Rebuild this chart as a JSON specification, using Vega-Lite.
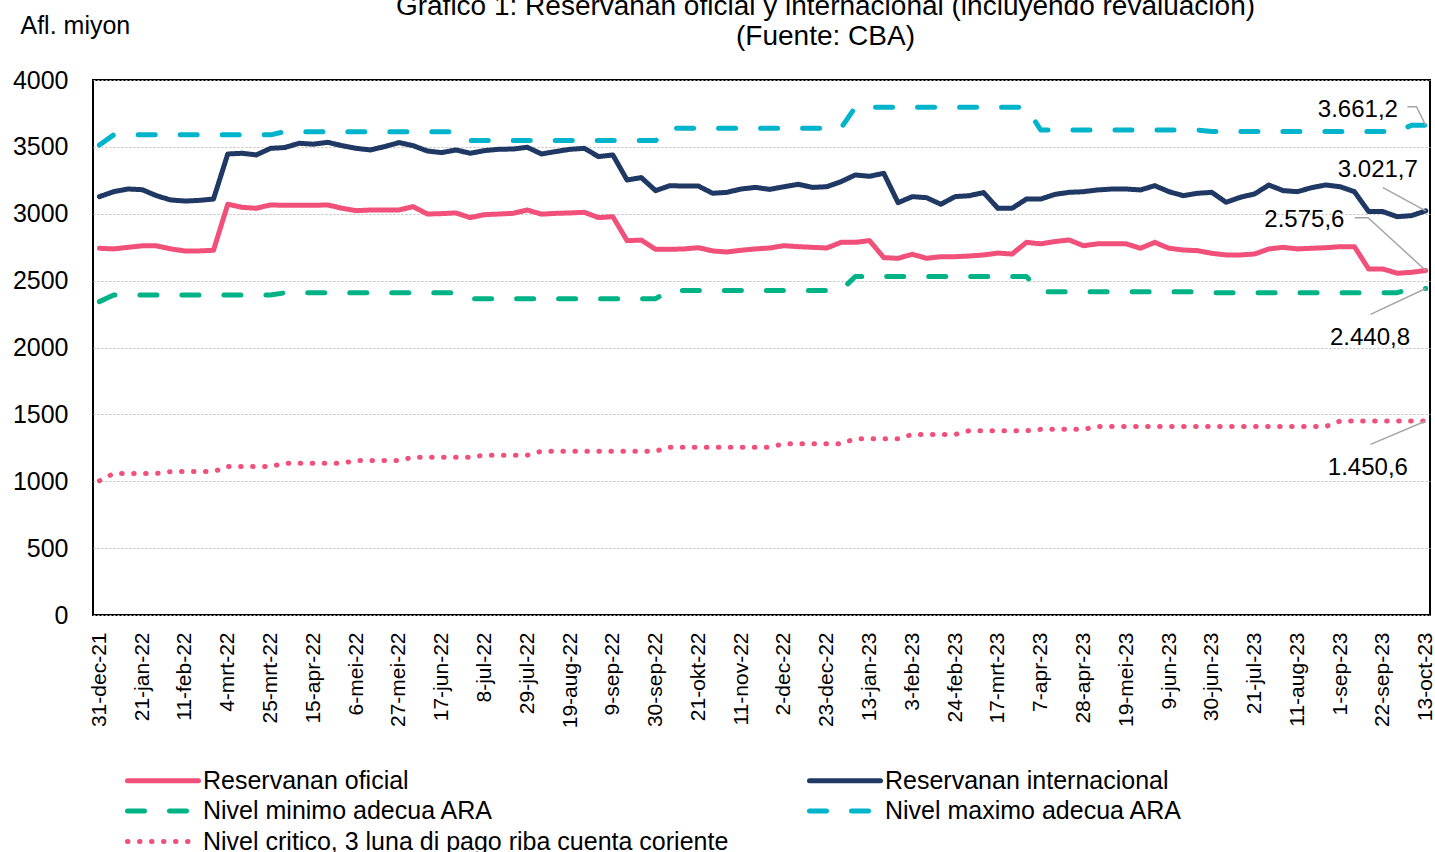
{
  "$schema": "https://vega.github.io/schema/vega-lite/v6.json",
  "width": 1337,
  "height": 535,
  "autosize": {"type": "none"},
  "padding": {"left": 93, "top": 80, "right": 5, "bottom": 237},
  "background": "white",
  "config": {
    "font": "Liberation Sans",
    "view": {"stroke": "#000000", "strokeWidth": 2},
    "axis": {"labelFont": "Liberation Sans", "titleFont": "Liberation Sans"},
    "legend": {"labelFont": "Liberation Sans"}
  },
  "title": {
    "text": ["Grafico 1: Reservanan oficial y internacional (incluyendo revaluacion)", "(Fuente: CBA)"],
    "fontSize": 28,
    "fontWeight": "normal",
    "color": "#000000",
    "lineHeight": 30,
    "anchor": "middle",
    "frame": "group",
    "dx": 64,
    "offset": -38
  },
  "datasets": {
    "main": [
      {"wk":0,"oficial":2742,"internacional":3128,"minimo":2343,"maximo":3514,"critico":1003},
      {"wk":1,"oficial":2737,"internacional":3165,"minimo":2393,"maximo":3590,"critico":1058},
      {"wk":2,"oficial":2749,"internacional":3185,"minimo":2393,"maximo":3590,"critico":1058},
      {"wk":3,"oficial":2760,"internacional":3180,"minimo":2393,"maximo":3590,"critico":1058},
      {"wk":4,"oficial":2760,"internacional":3135,"minimo":2393,"maximo":3590,"critico":1058},
      {"wk":5,"oficial":2737,"internacional":3103,"minimo":2393,"maximo":3590,"critico":1072},
      {"wk":6,"oficial":2722,"internacional":3095,"minimo":2393,"maximo":3590,"critico":1072},
      {"wk":7,"oficial":2722,"internacional":3100,"minimo":2393,"maximo":3590,"critico":1072},
      {"wk":8,"oficial":2727,"internacional":3110,"minimo":2393,"maximo":3590,"critico":1072},
      {"wk":9,"oficial":3071,"internacional":3447,"minimo":2393,"maximo":3590,"critico":1110},
      {"wk":10,"oficial":3048,"internacional":3452,"minimo":2393,"maximo":3590,"critico":1110},
      {"wk":11,"oficial":3041,"internacional":3440,"minimo":2393,"maximo":3590,"critico":1110},
      {"wk":12,"oficial":3066,"internacional":3489,"minimo":2393,"maximo":3590,"critico":1110},
      {"wk":13,"oficial":3063,"internacional":3495,"minimo":2409,"maximo":3614,"critico":1135},
      {"wk":14,"oficial":3063,"internacional":3527,"minimo":2409,"maximo":3614,"critico":1135},
      {"wk":15,"oficial":3063,"internacional":3520,"minimo":2409,"maximo":3614,"critico":1135},
      {"wk":16,"oficial":3066,"internacional":3534,"minimo":2409,"maximo":3614,"critico":1135},
      {"wk":17,"oficial":3041,"internacional":3509,"minimo":2409,"maximo":3614,"critico":1135},
      {"wk":18,"oficial":3023,"internacional":3489,"minimo":2409,"maximo":3614,"critico":1155},
      {"wk":19,"oficial":3028,"internacional":3477,"minimo":2409,"maximo":3614,"critico":1155},
      {"wk":20,"oficial":3028,"internacional":3502,"minimo":2409,"maximo":3614,"critico":1155},
      {"wk":21,"oficial":3028,"internacional":3532,"minimo":2409,"maximo":3614,"critico":1155},
      {"wk":22,"oficial":3053,"internacional":3509,"minimo":2409,"maximo":3614,"critico":1180},
      {"wk":23,"oficial":2998,"internacional":3469,"minimo":2409,"maximo":3614,"critico":1180},
      {"wk":24,"oficial":3001,"internacional":3457,"minimo":2409,"maximo":3614,"critico":1180},
      {"wk":25,"oficial":3006,"internacional":3477,"minimo":2409,"maximo":3614,"critico":1180},
      {"wk":26,"oficial":2971,"internacional":3452,"minimo":2365,"maximo":3547,"critico":1180},
      {"wk":27,"oficial":2993,"internacional":3472,"minimo":2365,"maximo":3547,"critico":1195},
      {"wk":28,"oficial":2998,"internacional":3482,"minimo":2365,"maximo":3547,"critico":1195},
      {"wk":29,"oficial":3003,"internacional":3484,"minimo":2365,"maximo":3547,"critico":1195},
      {"wk":30,"oficial":3028,"internacional":3497,"minimo":2365,"maximo":3547,"critico":1195},
      {"wk":31,"oficial":2997,"internacional":3447,"minimo":2365,"maximo":3547,"critico":1225},
      {"wk":32,"oficial":3003,"internacional":3465,"minimo":2365,"maximo":3547,"critico":1225},
      {"wk":33,"oficial":3006,"internacional":3482,"minimo":2365,"maximo":3547,"critico":1225},
      {"wk":34,"oficial":3011,"internacional":3489,"minimo":2365,"maximo":3547,"critico":1225},
      {"wk":35,"oficial":2971,"internacional":3427,"minimo":2365,"maximo":3547,"critico":1225},
      {"wk":36,"oficial":2978,"internacional":3440,"minimo":2365,"maximo":3547,"critico":1225},
      {"wk":37,"oficial":2799,"internacional":3252,"minimo":2365,"maximo":3547,"critico":1225},
      {"wk":38,"oficial":2803,"internacional":3270,"minimo":2365,"maximo":3547,"critico":1225},
      {"wk":39,"oficial":2734,"internacional":3173,"minimo":2365,"maximo":3547,"critico":1225},
      {"wk":40,"oficial":2734,"internacional":3210,"minimo":2427,"maximo":3640,"critico":1255},
      {"wk":41,"oficial":2737,"internacional":3207,"minimo":2427,"maximo":3640,"critico":1255},
      {"wk":42,"oficial":2746,"internacional":3207,"minimo":2427,"maximo":3640,"critico":1255},
      {"wk":43,"oficial":2722,"internacional":3153,"minimo":2427,"maximo":3640,"critico":1255},
      {"wk":44,"oficial":2714,"internacional":3160,"minimo":2427,"maximo":3640,"critico":1255},
      {"wk":45,"oficial":2727,"internacional":3185,"minimo":2427,"maximo":3640,"critico":1255},
      {"wk":46,"oficial":2737,"internacional":3197,"minimo":2427,"maximo":3640,"critico":1255},
      {"wk":47,"oficial":2744,"internacional":3182,"minimo":2427,"maximo":3640,"critico":1255},
      {"wk":48,"oficial":2761,"internacional":3202,"minimo":2427,"maximo":3640,"critico":1280},
      {"wk":49,"oficial":2754,"internacional":3220,"minimo":2427,"maximo":3640,"critico":1280},
      {"wk":50,"oficial":2749,"internacional":3197,"minimo":2427,"maximo":3640,"critico":1280},
      {"wk":51,"oficial":2744,"internacional":3202,"minimo":2427,"maximo":3640,"critico":1280},
      {"wk":52,"oficial":2786,"internacional":3240,"minimo":2427,"maximo":3640,"critico":1280},
      {"wk":53,"oficial":2786,"internacional":3290,"minimo":2531,"maximo":3796,"critico":1318},
      {"wk":54,"oficial":2799,"internacional":3280,"minimo":2531,"maximo":3796,"critico":1318},
      {"wk":55,"oficial":2672,"internacional":3302,"minimo":2531,"maximo":3796,"critico":1318},
      {"wk":56,"oficial":2667,"internacional":3083,"minimo":2531,"maximo":3796,"critico":1318},
      {"wk":57,"oficial":2697,"internacional":3128,"minimo":2531,"maximo":3796,"critico":1350},
      {"wk":58,"oficial":2667,"internacional":3120,"minimo":2531,"maximo":3796,"critico":1350},
      {"wk":59,"oficial":2679,"internacional":3071,"minimo":2531,"maximo":3796,"critico":1350},
      {"wk":60,"oficial":2679,"internacional":3128,"minimo":2531,"maximo":3796,"critico":1350},
      {"wk":61,"oficial":2684,"internacional":3135,"minimo":2531,"maximo":3796,"critico":1378},
      {"wk":62,"oficial":2692,"internacional":3158,"minimo":2531,"maximo":3796,"critico":1378},
      {"wk":63,"oficial":2706,"internacional":3041,"minimo":2531,"maximo":3796,"critico":1378},
      {"wk":64,"oficial":2699,"internacional":3041,"minimo":2531,"maximo":3796,"critico":1378},
      {"wk":65,"oficial":2786,"internacional":3110,"minimo":2531,"maximo":3796,"critico":1378},
      {"wk":66,"oficial":2775,"internacional":3110,"minimo":2417,"maximo":3626,"critico":1388},
      {"wk":67,"oficial":2792,"internacional":3145,"minimo":2417,"maximo":3626,"critico":1388},
      {"wk":68,"oficial":2804,"internacional":3160,"minimo":2417,"maximo":3626,"critico":1388},
      {"wk":69,"oficial":2761,"internacional":3165,"minimo":2417,"maximo":3626,"critico":1388},
      {"wk":70,"oficial":2775,"internacional":3178,"minimo":2417,"maximo":3626,"critico":1410},
      {"wk":71,"oficial":2775,"internacional":3185,"minimo":2417,"maximo":3626,"critico":1410},
      {"wk":72,"oficial":2775,"internacional":3185,"minimo":2417,"maximo":3626,"critico":1410},
      {"wk":73,"oficial":2742,"internacional":3178,"minimo":2417,"maximo":3626,"critico":1410},
      {"wk":74,"oficial":2786,"internacional":3210,"minimo":2417,"maximo":3626,"critico":1410},
      {"wk":75,"oficial":2742,"internacional":3165,"minimo":2417,"maximo":3626,"critico":1410},
      {"wk":76,"oficial":2729,"internacional":3135,"minimo":2417,"maximo":3626,"critico":1410},
      {"wk":77,"oficial":2724,"internacional":3153,"minimo":2417,"maximo":3626,"critico":1410},
      {"wk":78,"oficial":2704,"internacional":3160,"minimo":2410,"maximo":3615,"critico":1410},
      {"wk":79,"oficial":2692,"internacional":3086,"minimo":2410,"maximo":3615,"critico":1410},
      {"wk":80,"oficial":2692,"internacional":3123,"minimo":2410,"maximo":3615,"critico":1410},
      {"wk":81,"oficial":2699,"internacional":3148,"minimo":2410,"maximo":3615,"critico":1410},
      {"wk":82,"oficial":2737,"internacional":3215,"minimo":2410,"maximo":3615,"critico":1410},
      {"wk":83,"oficial":2749,"internacional":3173,"minimo":2410,"maximo":3615,"critico":1410},
      {"wk":84,"oficial":2737,"internacional":3165,"minimo":2410,"maximo":3615,"critico":1410},
      {"wk":85,"oficial":2742,"internacional":3195,"minimo":2410,"maximo":3615,"critico":1410},
      {"wk":86,"oficial":2746,"internacional":3215,"minimo":2410,"maximo":3615,"critico":1410},
      {"wk":87,"oficial":2754,"internacional":3202,"minimo":2410,"maximo":3615,"critico":1450},
      {"wk":88,"oficial":2754,"internacional":3165,"minimo":2410,"maximo":3615,"critico":1450},
      {"wk":89,"oficial":2587,"internacional":3016,"minimo":2410,"maximo":3615,"critico":1450},
      {"wk":90,"oficial":2587,"internacional":3016,"minimo":2410,"maximo":3615,"critico":1450},
      {"wk":91,"oficial":2555,"internacional":2978,"minimo":2410,"maximo":3615,"critico":1450},
      {"wk":92,"oficial":2562,"internacional":2986,"minimo":2440.8,"maximo":3661.2,"critico":1450},
      {"wk":93,"oficial":2575.6,"internacional":3021.7,"minimo":2440.8,"maximo":3661.2,"critico":1450.6}
    ],
    "ann": [
      {"t":"3.661,2","wk":91.05,"v":3726},
      {"t":"3.021,7","wk":92.45,"v":3275},
      {"t":"2.575,6","wk":87.3,"v":2903},
      {"t":"2.440,8","wk":91.9,"v":2019},
      {"t":"1.450,6","wk":91.75,"v":1047}
    ],
    "lead": [
      {"id":"a","o":0,"wk":91.72,"v":3800},
      {"id":"a","o":1,"wk":92.35,"v":3800},
      {"id":"a","o":2,"wk":93,"v":3661.2},
      {"id":"b","o":0,"wk":90.0,"v":3195},
      {"id":"b","o":1,"wk":93,"v":3021.7},
      {"id":"c","o":0,"wk":88.03,"v":2971},
      {"id":"c","o":1,"wk":88.96,"v":2971},
      {"id":"c","o":2,"wk":93,"v":2575.6},
      {"id":"d","o":0,"wk":89.13,"v":2248},
      {"id":"d","o":1,"wk":93,"v":2440.8},
      {"id":"e","o":0,"wk":89.13,"v":1276},
      {"id":"e","o":1,"wk":93,"v":1450.6}
    ]
  },
  "encoding": {
    "x": {
      "field": "wk",
      "type": "quantitative",
      "scale": {"domain": [-0.45, 93.3], "nice": false, "zero": false},
      "axis": {
        "values": [0,3,6,9,12,15,18,21,24,27,30,33,36,39,42,45,48,51,54,57,60,63,66,69,72,75,78,81,84,87,90,93],
        "labelExpr": "['31-dec-21','21-jan-22','11-feb-22','4-mrt-22','25-mrt-22','15-apr-22','6-mei-22','27-mei-22','17-jun-22','8-jul-22','29-jul-22','19-aug-22','9-sep-22','30-sep-22','21-okt-22','11-nov-22','2-dec-22','23-dec-22','13-jan-23','3-feb-23','24-feb-23','17-mrt-23','7-apr-23','28-apr-23','19-mei-23','9-jun-23','30-jun-23','21-jul-23','11-aug-23','1-sep-23','22-sep-23','13-oct-23'][round(datum.value / 3)]",
        "labelAngle": -90,
        "labelFontSize": 21,
        "labelColor": "#000000",
        "labelPadding": 17,
        "labelFlush": false,
        "labelOverlap": false,
        "labelBound": false,
        "ticks": false,
        "tickSize": 0,
        "domain": false,
        "grid": false,
        "title": null
      }
    },
    "y": {
      "field": "v",
      "type": "quantitative",
      "scale": {"domain": [0, 4000], "nice": false},
      "axis": {
        "values": [0,500,1000,1500,2000,2500,3000,3500,4000],
        "format": "d",
        "title": "Afl. miyon",
        "titleAngle": 0,
        "titleX": -73,
        "titleY": -47,
        "titleAlign": "left",
        "titleBaseline": "alphabetic",
        "titleFontSize": 25,
        "titleFontWeight": "normal",
        "titleColor": "#000000",
        "labelFontSize": 25,
        "labelColor": "#000000",
        "labelPadding": 25,
        "ticks": false,
        "tickSize": 0,
        "domain": false,
        "grid": true,
        "gridColor": "#BFBFBF",
        "gridDash": [2, 2],
        "gridWidth": 1
      }
    }
  },
  "layer": [
    {
      "data": {"name": "main"},
      "transform": [{"fold": ["oficial", "internacional", "minimo", "maximo", "critico"], "as": ["serie", "v"]}],
      "mark": {"type": "line", "strokeWidth": 5, "strokeCap": "round", "strokeJoin": "round"},
      "encoding": {
        "color": {
          "field": "serie",
          "type": "nominal",
          "scale": {
            "domain": ["oficial", "internacional", "minimo", "maximo", "critico"],
            "range": ["#F0507A", "#1F3864", "#00B386", "#00B4CC", "#F0507A"]
          },
          "legend": {
            "orient": "none",
            "legendX": 57.5,
            "legendY": 688,
            "columns": 2,
            "direction": "horizontal",
            "title": null,
            "padding": 0,
            "symbolType": "M-35.5,0H35.5",
            "symbolSize": 4,
            "symbolStrokeWidth": 5,
            "labelFontSize": 25,
            "labelColor": "#000000",
            "labelOffset": 27.5,
            "labelLimit": 1000,
            "rowPadding": 4.5,
            "columnPadding": 71,
            "encode": {"symbols": {"update": {"strokeCap": {"value": "round"}}}},
            "labelExpr": "datum.label == 'oficial' ? 'Reservanan oficial' : datum.label == 'internacional' ? 'Reservanan internacional' : datum.label == 'minimo' ? 'Nivel minimo adecua ARA' : datum.label == 'maximo' ? 'Nivel maximo adecua ARA' : 'Nivel critico, 3 luna di pago riba cuenta coriente'"
          }
        },
        "strokeDash": {
          "field": "serie",
          "type": "nominal",
          "scale": {
            "domain": ["oficial", "internacional", "minimo", "maximo", "critico"],
            "range": [[1, 0], [1, 0], [17, 25], [17, 25], [0.5, 11.5]]
          }
        }
      }
    },
    {
      "data": {"name": "lead"},
      "mark": {"type": "line", "color": "#A6A6A6", "strokeWidth": 1.5},
      "encoding": {
        "detail": {"field": "id", "type": "nominal"},
        "order": {"field": "o", "type": "quantitative"}
      }
    },
    {
      "data": {"name": "ann"},
      "mark": {"type": "text", "align": "right", "baseline": "alphabetic", "fontSize": 24, "color": "#000000"},
      "encoding": {"text": {"field": "t", "type": "nominal"}}
    }
  ]
}
